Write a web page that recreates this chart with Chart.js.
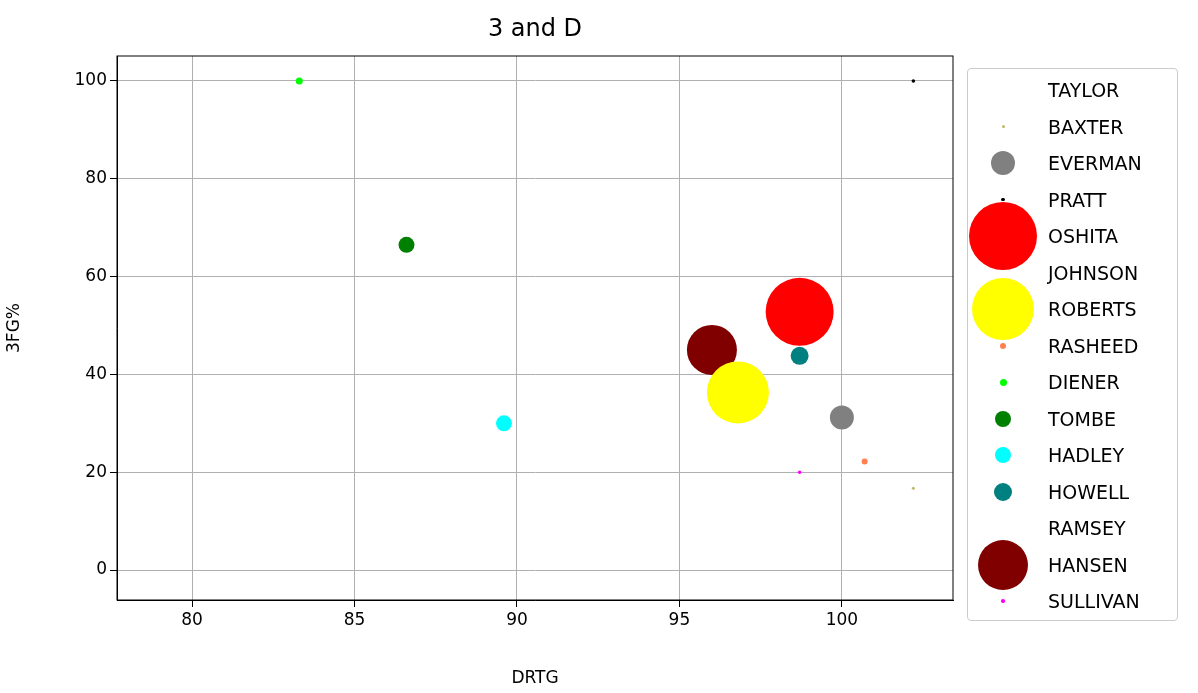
<!DOCTYPE html>
<html><head><meta charset="utf-8">
<script src="https://cdn.jsdelivr.net/npm/chart.js@4"></script>
<style>
body{margin:0;background:#fff;font-family:"DejaVu Sans",sans-serif;}
#wrap{position:relative;width:1198px;height:693px;}
#title{position:absolute;top:14px;left:117px;width:836px;text-align:center;font-size:24px;}
#legend{position:absolute;left:967px;top:68px;width:211px;height:553px;border:1px solid #ccc;border-radius:4px;box-sizing:border-box;}
.row{position:absolute;left:0;height:36px;width:100%;}
.mk{position:absolute;border-radius:50%;}
.lb{position:absolute;left:80px;font-size:19px;line-height:36px;}
</style></head><body>
<div id="wrap"><canvas id="c" width="1198" height="693"></canvas>
<div id="title">3 and D</div><div id="legend"></div></div>
<script>
const players = ['TAYLOR','BAXTER','EVERMAN','PRATT','OSHITA','JOHNSON','ROBERTS','RASHEED','DIENER','TOMBE','HADLEY','HOWELL','RAMSEY','HANSEN','SULLIVAN'];
const drtg = [null,102.2,100.0,102.2,98.7,null,96.8,100.7,83.3,86.6,89.6,98.7,null,96.0,98.7];
const fg3 = [null,16.7,31.2,100,52.8,null,36.3,22.2,100,66.5,30.0,43.8,null,45.0,20.0];
const sizes = [0,1.5,12,1.8,34,0,31,3,3.5,8,8,9,0,25,1.8];
const colors = ['#ffffff','#bdb76b','#808080','#000000','#ff0000','#ffffff','#ffff00','#ff7f50','#00ff00','#008000','#00ffff','#008080','#ffffff','#800000','#ff00ff'];

const datasets = players.map((p,i)=>({
  label:p,
  data: drtg[i]==null?[]:[{x:drtg[i],y:fg3[i],r:sizes[i]}],
  backgroundColor:colors[i],borderWidth:0
}));

const font={family:'DejaVu Sans',size:17};
new Chart(document.getElementById('c'),{
  type:'bubble',
  data:{datasets},
  options:{
    responsive:false,animation:false,
    layout:{padding:{left:0,right:245,top:56,bottom:0}},
    plugins:{legend:{display:false},tooltip:{enabled:false}},
    scales:{
      x:{min:77.69,max:103.42,
        ticks:{stepSize:5,color:'#000',font},
        afterBuildTicks:s=>{s.ticks=s.ticks.filter(t=>Math.abs(t.value%5)<1e-6);},
        afterFit:s=>{s.height=93;},
        grid:{color:'#b0b0b0',tickColor:'#000',tickLength:7},
        border:{color:'#000'},
        title:{display:true,text:'DRTG',color:'#000',font}},
      y:{min:-6.13,max:105.1,
        ticks:{stepSize:20,color:'#000',font},
        afterBuildTicks:s=>{s.ticks=s.ticks.filter(t=>Math.abs(t.value%20)<1e-6);},
        afterFit:s=>{s.width=117;},
        grid:{color:'#b0b0b0',tickColor:'#000',tickLength:7},
        border:{color:'#000'},
        title:{display:true,text:'3FG%',color:'#000',font}}
    }
  },
  plugins:[{id:'frame',afterDraw(c){const a=c.chartArea,g=c.ctx;g.save();g.strokeStyle='#000';g.lineWidth=1;g.strokeRect(a.left,a.top,a.right-a.left,a.bottom-a.top);g.restore();}}]
});

const leg=document.getElementById('legend');
players.forEach((p,i)=>{
  const row=document.createElement('div');row.className='row';row.style.top=(3+i*36.5)+'px';
  const r=sizes[i];
  if(r>0){const m=document.createElement('div');m.className='mk';
    m.style.width=m.style.height=(2*r)+'px';m.style.left=(35-r)+'px';m.style.top=(18-r)+'px';
    m.style.background=colors[i];row.appendChild(m);}
  const l=document.createElement('div');l.className='lb';l.textContent=p;row.appendChild(l);
  leg.appendChild(row);
});
</script></body></html>
